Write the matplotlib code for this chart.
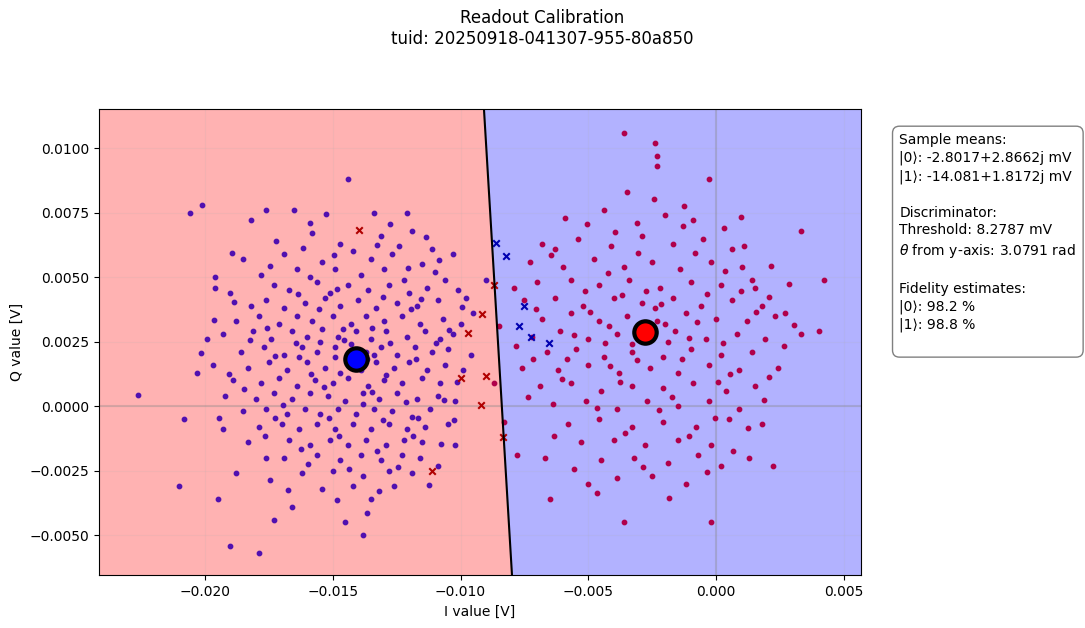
import numpy as np
import matplotlib.pyplot as plt

# shots in mV, prepared |1> (left cluster) and |0> (right cluster)
shots1 = [
    (-22.6, 0.45), (-21.0, -3.1), (-20.8, -0.5), (-20.6, 7.5), (-20.1, 7.8), (-19.6, 5.0), (-19.6, 4.6),
    (-19.5, -3.6), (-19.0, -5.4), (-18.2, 7.2), (-17.9, -5.7), (-17.6, 7.6), (-17.3, -4.4), (-16.5, 7.6),
    (-16.6, -3.9), (-15.9, 7.1), (-14.5, -4.5), (-13.8, -5.0), (-13.5, -3.6), (-14.4, 8.8), (-13.4, 7.5),
    (-12.1, 7.5), (-10.9, -2.3), (-10.2, -1.5), (-9.8, 4.2), (-9.6, 2.0), (-19.9, 2.6), (-19.3, -0.9),
    (-18.8, -2.6), (-17.6, -2.0), (-11.1, 6.1), (-10.3, 5.9), (-9.5, 3.6), (-9.0, 4.9), (-20.3, 1.3),
    (-17.2, 6.4), (-15.8, 6.7), (-14.7, 6.3), (-13.1, 6.6), (-12.4, 6.2), (-11.9, 6.8),
    (-18.5, 5.7), (-16.9, 5.9), (-15.4, 5.6), (-14.2, 6.0), (-13.5, 5.7), (-12.7, 5.9), (-11.5, 5.5),
    (-17.8, 5.1), (-16.4, 5.3), (-15.9, 5.0), (-14.9, 5.3), (-13.9, 5.1), (-13.0, 5.3), (-12.2, 4.9),
    (-11.0, 5.2), (-10.6, 4.9), (-19.0, 4.4), (-17.3, 4.7), (-16.7, 4.5), (-15.6, 4.8), (-15.1, 4.4),
    (-14.4, 4.7), (-13.6, 4.5), (-12.8, 4.7), (-12.0, 4.4), (-11.3, 4.6), (-10.1, 4.5),
    (-18.2, 3.9), (-17.6, 4.1), (-16.9, 3.8), (-16.1, 4.0), (-15.3, 4.2), (-14.7, 3.9), (-14.0, 4.1),
    (-13.3, 3.8), (-12.5, 4.0), (-11.7, 3.9), (-10.9, 4.1), (-18.8, 3.3), (-17.9, 3.5), (-17.1, 3.2),
    (-16.4, 3.5), (-15.8, 3.3), (-15.0, 3.5), (-14.3, 3.2), (-13.7, 3.5), (-13.0, 3.3), (-12.3, 3.5),
    (-11.6, 3.2), (-10.7, 3.4), (-10.0, 3.2), (-19.3, 2.8), (-18.1, 2.9), (-17.4, 2.6), (-16.6, 2.9),
    (-16.0, 2.7), (-15.4, 3.0), (-14.8, 2.7), (-14.1, 2.9), (-13.5, 2.6), (-12.9, 2.9), (-12.1, 2.7),
    (-11.4, 2.9), (-10.8, 2.6), (-10.3, 2.8), (-18.6, 2.1), (-17.7, 2.3), (-16.9, 2.0), (-16.2, 2.3),
    (-15.6, 2.1), (-14.9, 2.3), (-14.3, 2.4), (-13.7, 2.1), (-13.1, 2.3), (-12.5, 2.0), (-11.8, 2.3),
    (-11.1, 2.1), (-10.5, 2.2), (-19.7, 1.6), (-18.3, 1.5), (-17.5, 1.7), (-16.8, 1.4), (-16.0, 1.7),
    (-15.3, 1.5), (-14.7, 1.3), (-13.9, 1.4), (-13.3, 1.7), (-12.6, 1.5), (-12.0, 1.7), (-11.3, 1.4),
    (-10.6, 1.6), (-9.9, 1.4), (-18.9, 1.0), (-17.8, 0.9), (-17.1, 1.1), (-16.4, 0.8), (-15.7, 1.0),
    (-15.0, 0.9), (-14.4, 1.1), (-13.6, 0.8), (-13.0, 1.0), (-12.3, 0.9), (-11.5, 1.1), (-10.8, 0.9),
    (-19.2, 0.4), (-18.0, 0.3), (-17.3, 0.5), (-16.6, 0.3), (-15.9, 0.5), (-15.2, 0.4), (-14.5, 0.2),
    (-13.8, 0.5), (-13.2, 0.3), (-12.5, 0.5), (-11.7, 0.3), (-10.9, 0.4), (-10.2, 0.2),
    (-18.5, -0.2), (-17.6, -0.1), (-16.8, -0.3), (-16.1, -0.1), (-15.5, -0.3), (-14.8, -0.1),
    (-14.1, -0.3), (-13.4, -0.1), (-12.7, -0.2), (-11.9, -0.4), (-11.2, -0.1), (-17.9, -0.8),
    (-17.0, -0.7), (-16.3, -0.9), (-15.6, -0.7), (-14.9, -0.9), (-14.2, -0.7), (-13.5, -0.9),
    (-12.8, -0.7), (-12.1, -0.9), (-11.4, -0.8), (-10.5, -0.7), (-18.3, -1.4), (-16.7, -1.3),
    (-15.9, -1.5), (-15.1, -1.3), (-14.4, -1.5), (-13.7, -1.3), (-12.9, -1.5), (-12.2, -1.3),
    (-11.5, -1.4), (-16.9, -2.0), (-15.6, -1.9), (-14.7, -2.1), (-13.9, -1.9), (-13.1, -2.1),
    (-12.3, -1.9), (-11.6, -2.0), (-16.2, -2.6), (-15.0, -2.5), (-13.8, -2.7), (-12.8, -2.5),
    (-11.9, -2.6), (-15.4, -3.2), (-14.2, -3.1), (-13.2, -3.3), (-12.6, -3.1), (-14.9, 1.9),
    (-13.4, 2.0), (-14.6, 3.0), (-13.8, 0.1), (-15.5, 2.5), (-12.9, 1.2), (-16.3, 1.9),
    # second pass, off-grid
    (-17.45, 5.45), (-16.15, 6.15), (-14.95, 5.85), (-13.25, 6.25), (-12.05, 5.35), (-10.85, 5.65),
    (-18.85, 4.05), (-16.35, 4.35), (-14.85, 4.55), (-13.05, 4.25), (-11.55, 4.15), (-9.95, 3.85),
    (-19.65, 3.35), (-17.55, 3.05), (-15.55, 3.75), (-13.45, 3.05), (-11.95, 3.75), (-10.45, 2.95),
    (-20.15, 2.05), (-18.25, 2.55), (-16.45, 2.45), (-14.55, 2.55), (-12.75, 2.45), (-10.95, 2.45),
    (-19.05, 1.25), (-17.25, 1.95), (-15.85, 1.25), (-13.65, 1.85), (-11.75, 1.85), (-10.15, 0.95),
    (-18.45, 0.65), (-16.95, 0.05), (-15.35, 0.75), (-13.45, 0.55), (-12.15, 0.15), (-10.65, 0.25),
    (-19.45, -0.45), (-17.25, -0.45), (-15.15, -0.45), (-13.05, -0.55), (-11.65, -0.45), (-10.25, -0.55),
    (-17.65, -1.15), (-16.25, -1.65), (-14.75, -1.15), (-13.25, -1.75), (-11.85, -1.15), (-10.75, -1.45),
    (-17.45, -2.85), (-15.95, -2.25), (-14.35, -2.45), (-12.45, -2.35), (-11.25, -3.05), (-14.85, -3.65),
    (-16.75, -3.25), (-13.65, -4.15), (-18.95, 5.95), (-15.25, 7.45), (-12.75, 7.05), (-11.35, 6.55),
]
shots0 = [
    (-3.6, 10.6), (-2.4, 10.2), (-2.3, 9.7), (-2.3, 9.3), (-0.3, 8.8), (-3.5, 8.3), (3.3, 6.8), (4.2, 4.9),
    (3.3, 2.8), (4.0, 2.9), (2.2, -2.3), (1.3, -2.0), (-3.6, -4.5), (-0.2, -4.5), (-6.5, -3.6),
    (-5.0, -3.0), (0.2, -2.3), (1.8, -0.7), (-8.7, 0.9), (-8.3, -0.6), (-7.8, -1.9), (-6.7, -2.0),
    (-6.3, 6.1), (-1.3, 7.0), (1.5, 4.6), (2.4, 1.5), (-8.5, 3.1), (-7.9, 4.6), (2.7, 3.6), (1.1, 6.2),
    (-5.9, 7.3), (-4.4, 7.6), (-3.1, 7.1), (-2.0, 7.4), (-0.9, 7.2), (0.3, 6.9),
    (-6.8, 6.3), (-5.4, 6.5), (-4.1, 6.2), (-2.9, 6.6), (-1.7, 6.3), (-0.5, 6.5), (0.6, 6.1),
    (-7.3, 5.6), (-6.0, 5.4), (-4.8, 5.7), (-3.6, 5.4), (-2.5, 5.6), (-1.4, 5.3), (-0.2, 5.6), (1.0, 5.4),
    (-7.0, 4.8), (-5.7, 4.9), (-4.6, 4.7), (-3.4, 4.9), (-2.2, 4.6), (-1.0, 4.8), (0.2, 4.7), (1.4, 4.9),
    (-7.5, 4.1), (-6.3, 4.2), (-5.2, 3.9), (-4.0, 4.2), (-2.9, 4.0), (-1.7, 4.2), (-0.6, 3.9), (0.6, 4.1),
    (1.8, 3.9), (-6.8, 3.4), (-5.7, 3.6), (-4.6, 3.3), (-3.5, 3.5), (-2.3, 3.3), (-1.2, 3.6), (0.0, 3.4),
    (1.2, 3.3), (2.3, 3.5), (-7.2, 2.7), (-6.1, 2.9), (-5.0, 2.6), (-3.9, 2.8), (-2.7, 2.7), (-1.6, 2.9),
    (-0.4, 2.6), (0.8, 2.8), (1.9, 2.6), (-6.6, 2.1), (-5.5, 2.2), (-4.4, 1.9), (-3.3, 2.1), (-2.1, 1.9),
    (-1.0, 2.2), (0.2, 2.0), (1.4, 2.1), (-7.6, 1.5), (-6.2, 1.4), (-5.0, 1.6), (-3.8, 1.3), (-2.6, 1.5),
    (-1.5, 1.3), (-0.3, 1.6), (0.9, 1.4), (-6.9, 0.8), (-5.7, 0.9), (-4.5, 0.6), (-3.3, 0.8), (-2.1, 0.7),
    (-0.9, 0.9), (0.4, 0.6), (1.5, 0.8), (-6.4, 0.1), (-5.1, 0.2), (-3.9, -0.1), (-2.7, 0.2), (-1.5, 0.0),
    (-0.3, 0.2), (0.9, -0.1), (-5.8, -0.7), (-4.6, -0.5), (-3.3, -0.8), (-2.1, -0.6), (-0.8, -0.8),
    (0.5, -0.5), (-5.3, -1.4), (-4.0, -1.3), (-2.8, -1.5), (-1.5, -1.3), (-0.2, -1.5), (-4.5, -2.1),
    (-3.2, -2.0), (-1.9, -2.2), (-0.7, -1.9), (-3.9, -2.8), (-2.5, -2.7), (-1.2, -3.0), (-2.9, 3.0),
    (-3.3, 2.4), (-2.4, 3.8), (-3.1, 1.8), (-1.9, 2.5), (-4.2, 3.1), (-2.0, 3.2), (-3.7, 4.3),
    # second pass, off-grid
    (-6.45, 5.85), (-4.25, 5.15), (-3.05, 5.95), (-0.85, 5.95), (0.35, 5.25), (-5.15, 4.45),
    (-2.75, 4.45), (-0.35, 4.35), (0.95, 4.45), (2.05, 4.25), (-7.05, 3.75), (-4.95, 3.65),
    (-2.15, 3.95), (-0.75, 3.25), (1.55, 3.65), (3.05, 3.15), (-7.85, 2.35), (-5.55, 2.75),
    (-4.35, 2.45), (-1.05, 2.65), (0.25, 2.45), (2.65, 2.35), (-7.15, 1.85), (-5.85, 1.85),
    (-4.15, 1.55), (-1.35, 1.85), (0.55, 1.25), (2.05, 1.15), (-6.05, 1.05), (-3.75, 0.95),
    (-1.75, 0.35), (0.05, 0.95), (1.85, 0.25), (-7.35, 0.35), (-4.65, -0.05), (-2.25, -0.15),
    (-0.05, -0.45), (1.25, -0.85), (-6.35, -1.15), (-3.55, -1.05), (-1.05, -1.15), (0.65, -1.75),
    (-5.55, -2.45), (-2.85, -2.35), (-0.35, -2.55), (-4.65, -3.35), (-1.85, -3.55), (-5.05, 7.05),
    (-2.45, 8.05), (-1.25, 7.75), (0.95, 7.35), (-3.95, 6.75), (2.15, 5.45), (2.85, 4.75),
]
# misassigned shots (mV)
err1 = [(-13.98, 6.82), (-9.71, 2.83), (-9.16, 3.57), (-9.98, 1.09), (-9.01, 1.16),
        (-9.20, 0.04), (-11.12, -2.52), (-8.69, 4.69), (-8.34, -1.20)]
err0 = [(-8.61, 6.32), (-8.22, 5.81), (-7.52, 3.88), (-7.71, 3.10), (-7.24, 2.67), (-6.54, 2.44)]
mean0 = (-2.8017, 2.8662)
mean1 = (-14.081, 1.8172)
line_x = [-9.084, -7.988]
line_y = [11.51, -6.55]

def arr(pts):
    a = np.array(pts) / 1000
    return a[:, 0], a[:, 1]

fig = plt.figure(figsize=(10.85, 6.28), dpi=100)
ax = fig.add_axes([0.091, 0.084, 0.703, 0.742])
xlim = (-0.02415, 0.00568)
ylim = (-0.00655, 0.01151)
lx = np.array(line_x) / 1000
ly = np.array(line_y) / 1000
ax.fill([xlim[0], lx[0], lx[1], xlim[0]], [ylim[1], ly[0], ly[1], ylim[0]], color='red', alpha=0.3, lw=0)
ax.fill([lx[0], xlim[1], xlim[1], lx[1]], [ylim[1], ylim[1], ylim[0], ly[1]], color='blue', alpha=0.3, lw=0)
ax.axhline(0, color='grey', alpha=0.3, lw=1.5)
ax.axvline(0, color='grey', alpha=0.3, lw=1.5)
ax.grid(alpha=0.15)

x, y = arr(shots1)
ax.scatter(x, y, s=10, color='#5010b0', zorder=3)
x, y = arr(shots0)
ax.scatter(x, y, s=10, color='#b0004a', zorder=3)
x, y = arr(err1)
ax.scatter(x, y, s=22, marker='x', color='#b00000', zorder=4)
x, y = arr(err0)
ax.scatter(x, y, s=22, marker='x', color='#0000b0', zorder=4)
ax.plot(lx, ly, color='black', lw=1.5, zorder=5)
ax.scatter([mean1[0] / 1000], [mean1[1] / 1000], s=260, color='blue', edgecolor='black', lw=3, zorder=6)
ax.scatter([mean0[0] / 1000], [mean0[1] / 1000], s=260, color='red', edgecolor='black', lw=3, zorder=6)

ax.set_xlim(xlim)
ax.set_ylim(ylim)
ax.set_xlabel('I value [V]')
ax.set_ylabel('Q value [V]')
fig.suptitle('Readout Calibration\ntuid: 20250918-041307-955-80a850', y=0.985)

txt = ("Sample means:\n|0\u27e9: -2.8017+2.8662j mV\n|1\u27e9: -14.081+1.8172j mV\n\n"
       "Discriminator:\nThreshold: 8.2787 mV\n$\\theta$ from y-axis: 3.0791 rad\n\n"
       "Fidelity estimates:\n|0\u27e9: 98.2 %\n|1\u27e9: 98.8 %\n")
fig.text(0.829, 0.788, txt, fontsize=10, va='top', ha='left', linespacing=1.35,
         bbox=dict(boxstyle='round', facecolor='white', edgecolor='grey', pad=0.5))
fig.savefig('out.png')
